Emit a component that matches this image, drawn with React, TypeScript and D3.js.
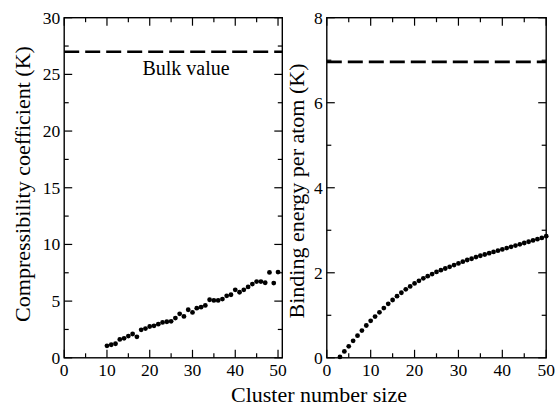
import React from "react";
import * as d3 from "d3";

const leftN = [10,11,12,13,14,15,16,17,18,19,20,21,22,23,24,25,26,27,28,29,30,31,32,33,34,35,36,37,38,39,40,41,42,43,44,45,46,47,48,49,50];
const leftK = [1.06,1.15,1.24,1.62,1.72,1.92,2.10,1.85,2.47,2.58,2.76,2.82,2.97,3.12,3.18,3.22,3.50,3.88,3.65,4.24,4.00,4.38,4.47,4.62,5.12,5.06,5.06,5.18,5.47,5.56,6.00,5.78,6.00,6.25,6.50,6.72,6.72,6.62,7.53,6.59,7.56];
const leftBulk = 27;

const rightN = [3,4,5,6,7,8,9,10,11,12,13,14,15,16,17,18,19,20,21,22,23,24,25,26,27,28,29,30,31,32,33,34,35,36,37,38,39,40,41,42,43,44,45,46,47,48,49,50];
const rightE = [0.02,0.15,0.27,0.40,0.52,0.64,0.76,0.87,0.97,1.07,1.17,1.27,1.36,1.45,1.53,1.61,1.68,1.75,1.81,1.87,1.92,1.97,2.02,2.06,2.10,2.14,2.18,2.22,2.26,2.30,2.33,2.37,2.40,2.43,2.46,2.49,2.52,2.55,2.58,2.61,2.64,2.67,2.70,2.73,2.76,2.79,2.82,2.86];
const rightBulk = 6.96;

const xTicks = [0,10,20,30,40,50];
const xMinor = [5,15,25,35,45];
const leftYTicks = [0,5,10,15,20,25,30];
const leftYMinor = [2.5,7.5,12.5,17.5,22.5,27.5];
const rightYTicks = [0,2,4,6,8];
const rightYMinor = [1,3,5,7];

const xTitle = "Cluster number size";
const leftTitle = "Compressibility coefficient (K)";
const rightTitle = "Binding energy per atom (K)";
const bulkLabel = "Bulk value";

const FONT = "'Liberation Serif', 'Nimbus Roman', 'Nimbus Roman No9 L', FreeSerif, 'Noto Serif', Tinos, 'Times New Roman', Times, 'Liberation Sans', sans-serif";
const fs = (size: number) => ({ fontFamily: FONT, fontSize: size + "px" });

type PanelProps = {
  x0: number; x1: number; y0: number; y1: number;
  xDomain: [number, number]; yDomain: [number, number];
  xs: number[]; ys: number[]; bulk: number;
  yTicks: number[]; yMinor: number[];
};

function Panel(p: PanelProps) {
  const x = d3.scaleLinear().domain(p.xDomain).range([p.x0, p.x1]);
  const y = d3.scaleLinear().domain(p.yDomain).range([p.y1, p.y0]);
  const MAJ = 8, MIN = 4.5;
  const tickStroke = { stroke: "#000", strokeWidth: 1.2 };
  return (
    <g>
      <line x1={p.x0} x2={p.x1} y1={y(p.bulk)} y2={y(p.bulk)} stroke="#000" strokeWidth={2.6} strokeDasharray="15,6" />
      {p.xs.map((v, i) => (
        <circle key={i} cx={x(v)} cy={y(p.ys[i])} r={2.4} fill="#000" />
      ))}
      <rect x={p.x0} y={p.y0} width={p.x1 - p.x0} height={p.y1 - p.y0} fill="none" stroke="#000" strokeWidth={1.4} />
      {xTicks.map((t) => (
        <g key={"xt" + t}>
          <line x1={x(t)} x2={x(t)} y1={p.y1} y2={p.y1 - MAJ} {...tickStroke} />
          <line x1={x(t)} x2={x(t)} y1={p.y0} y2={p.y0 + MAJ} {...tickStroke} />
          <text x={x(t)} y={p.y1 + 18} textAnchor="middle" style={fs(17.5)}>{t}</text>
        </g>
      ))}
      {xMinor.map((t) => (
        <g key={"xm" + t}>
          <line x1={x(t)} x2={x(t)} y1={p.y1} y2={p.y1 - MIN} {...tickStroke} />
          <line x1={x(t)} x2={x(t)} y1={p.y0} y2={p.y0 + MIN} {...tickStroke} />
        </g>
      ))}
      {p.yTicks.map((t) => (
        <g key={"yt" + t}>
          <line x1={p.x0} x2={p.x0 + MAJ} y1={y(t)} y2={y(t)} {...tickStroke} />
          <line x1={p.x1} x2={p.x1 - MAJ} y1={y(t)} y2={y(t)} {...tickStroke} />
          <text x={p.x0 - 4} y={y(t) + 6} textAnchor="end" style={fs(17.5)}>{t}</text>
        </g>
      ))}
      {p.yMinor.map((t) => (
        <g key={"ym" + t}>
          <line x1={p.x0} x2={p.x0 + MIN} y1={y(t)} y2={y(t)} {...tickStroke} />
          <line x1={p.x1} x2={p.x1 - MIN} y1={y(t)} y2={y(t)} {...tickStroke} />
        </g>
      ))}
    </g>
  );
}

export default function App() {
  return (
    <svg width={557} height={407} style={{ position: "fixed", left: 0, top: 0, background: "#fff" }}>
      <rect width={557} height={407} fill="#fff" />
      <Panel x0={64.2} x1={282.3} y0={17.7} y1={357.8} xDomain={[0, 51]} yDomain={[0, 30]}
        xs={leftN} ys={leftK} bulk={leftBulk} yTicks={leftYTicks} yMinor={leftYMinor} />
      <Panel x0={326.8} x1={546.2} y0={17.7} y1={357.8} xDomain={[0, 50]} yDomain={[0, 8]}
        xs={rightN} ys={rightE} bulk={rightBulk} yTicks={rightYTicks} yMinor={rightYMinor} />
      <text x={186} y={75} textAnchor="middle" style={fs(20)}>{bulkLabel}</text>
      <text x={319} y={402} textAnchor="middle" style={fs(22)}>{xTitle}</text>
      <text transform="translate(30,184) rotate(-90)" textAnchor="middle" style={fs(22)}>{leftTitle}</text>
      <text transform="translate(304,191) rotate(-90)" textAnchor="middle" style={fs(22)}>{rightTitle}</text>
    </svg>
  );
}
